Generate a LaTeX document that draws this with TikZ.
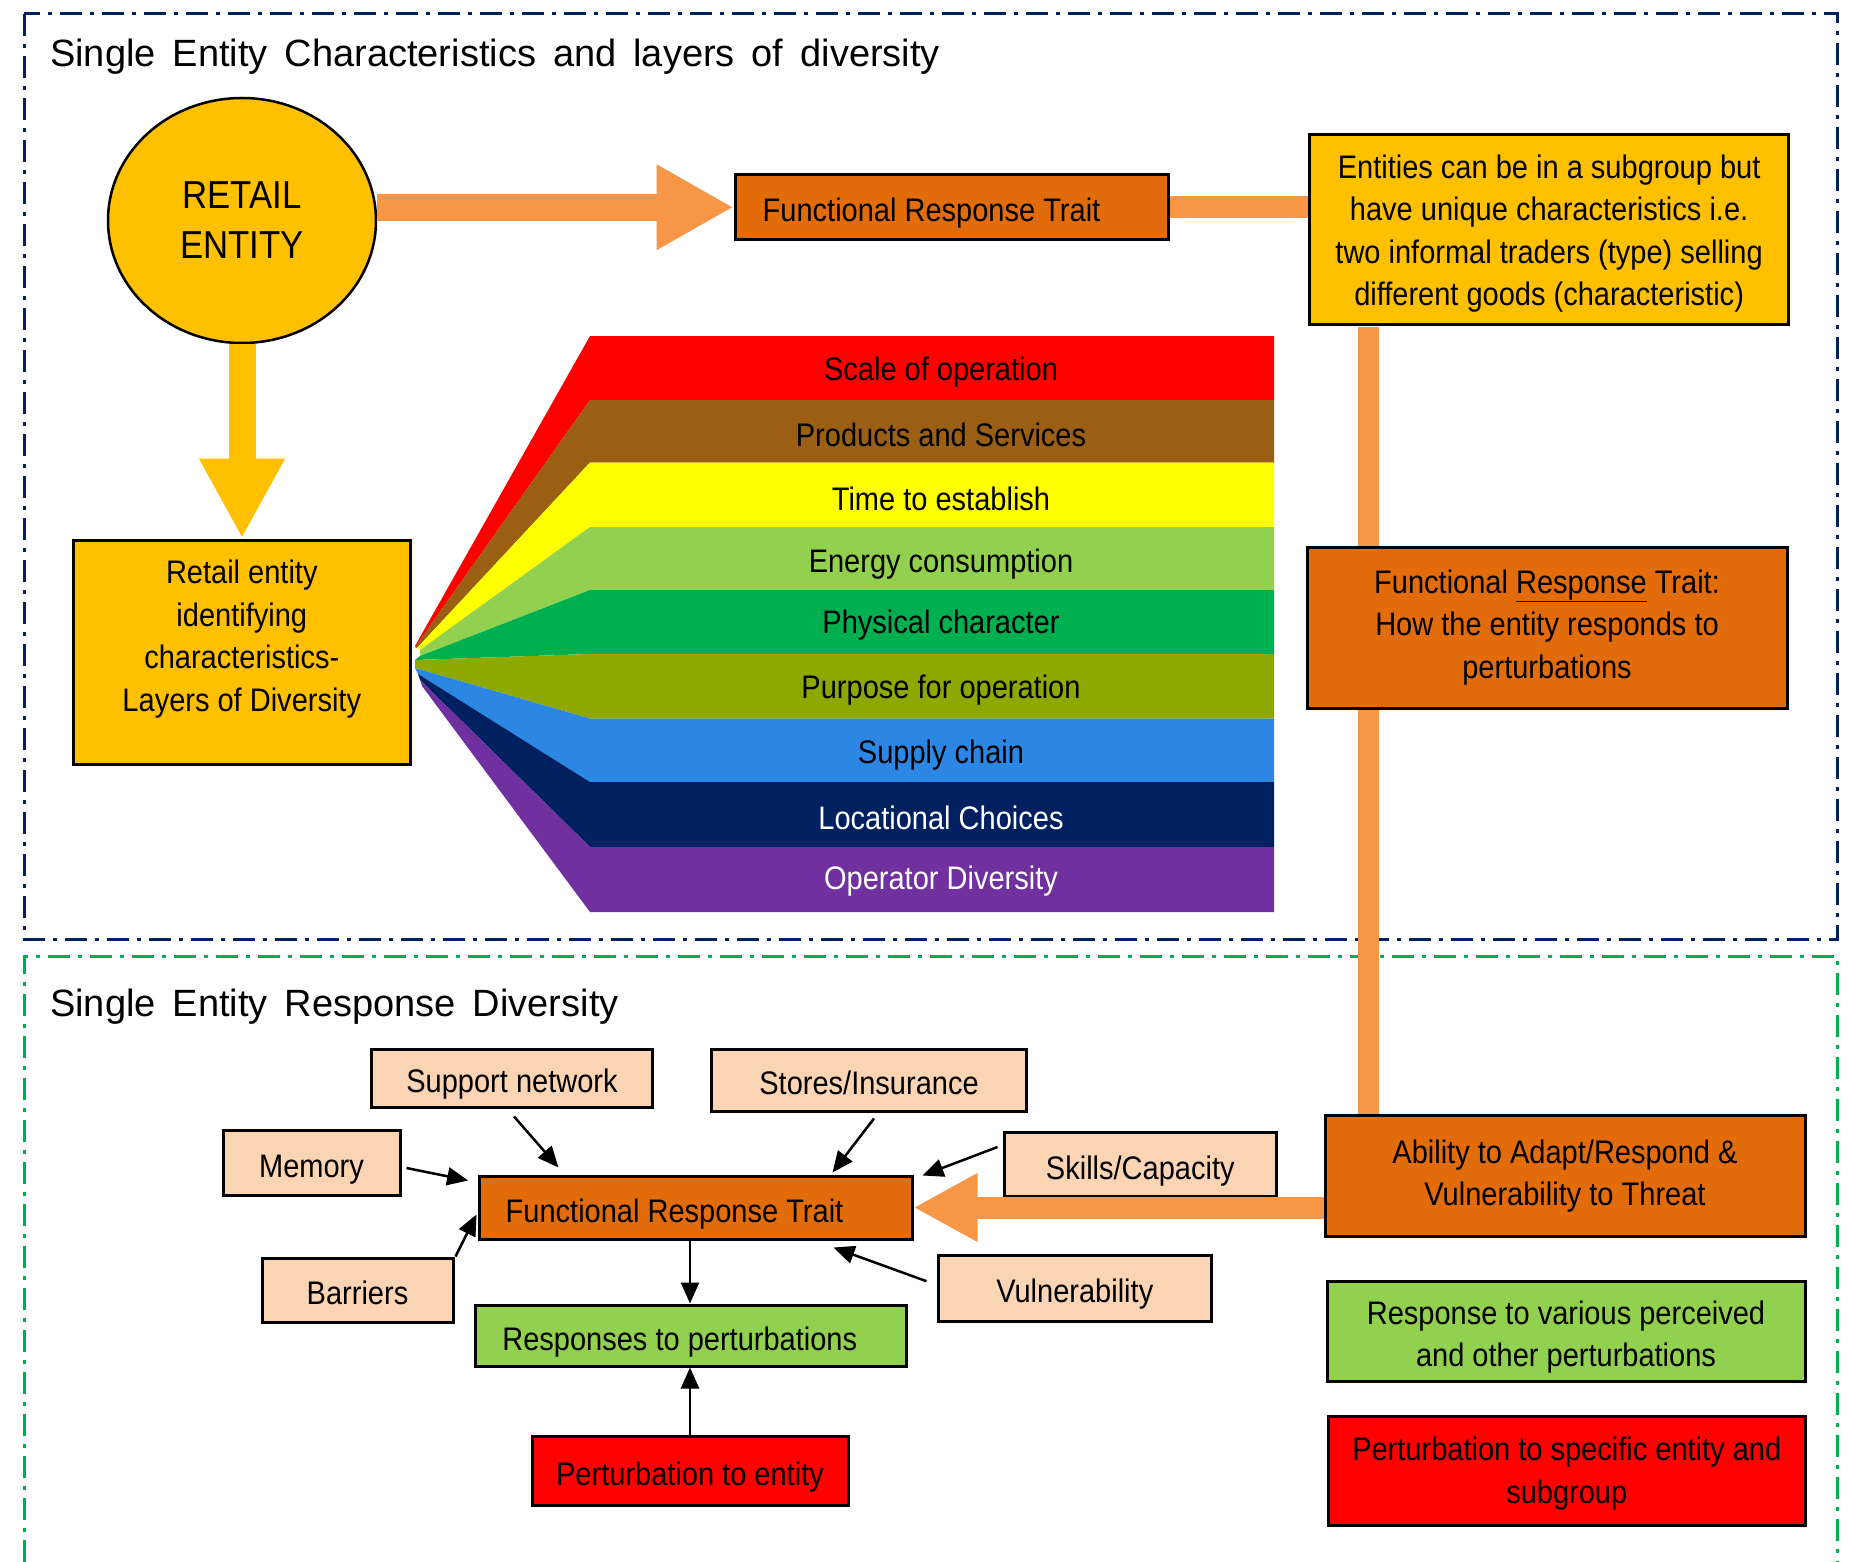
\documentclass[tikz,border=0pt]{standalone}
\usepackage{fontspec}
\setmainfont{Liberation Sans}
\newfontfamily\nf{Liberation Sans}[FakeStretch=0.89]
\usetikzlibrary{arrows.meta,calc,shapes.geometric}
\definecolor{navyb}{HTML}{002060}
\definecolor{greenb}{HTML}{00B050}
\definecolor{dorange}{HTML}{E36C0A}
\definecolor{lorange}{HTML}{F79646}
\definecolor{gold}{HTML}{FFC000}
\definecolor{peach}{HTML}{FBD4B4}
\definecolor{lgreen}{HTML}{92D050}
\definecolor{bred}{HTML}{FF0000}
\definecolor{bbrown}{HTML}{9A5F12}
\definecolor{byellow}{HTML}{FFFF00}
\definecolor{bgreen}{HTML}{00B050}
\definecolor{bolive}{HTML}{8DA900}
\definecolor{bblue}{HTML}{2B87E3}
\definecolor{bnavy}{HTML}{002060}
\definecolor{bpurple}{HTML}{7030A0}
\newcommand\bxfont{\nf\fontsize{32.6pt}{42.5pt}\selectfont}
\newcommand\ttlfont{\fontsize{38pt}{44pt}\selectfont}
\begin{document}
\begin{tikzpicture}[x=1pt,y=-1pt,
  box/.style={draw=black, line width=3pt, inner sep=0pt, font=\bxfont, align=center},
  one/.style={text height=33pt, text depth=4pt},
  ptxt/.style={inner sep=0pt, font=\bxfont, align=center},
  frame/.style={line width=3pt, dash pattern=on 22pt off 8pt on 4pt off 8pt},
  sarr/.style={draw=black, line width=2.5pt, -{Triangle[length=21pt,width=18pt]}},
  band/.style={inner sep=0pt, font=\bxfont}]
\useasboundingbox (0,0) rectangle (1850,1562);
\fill[white] (0,0) rectangle (1850,1562);

% frames
\draw[frame, navyb] (24,14) rectangle (1837,939);
\draw[frame, greenb] (24,1562) -- (24,956) -- (1837,956) -- (1837,1562);

% titles
\node[anchor=base west, inner sep=0pt, font=\ttlfont] (t1) at (50,67) {\spaceskip=17pt Single Entity Characteristics and layers of diversity};
\node[anchor=base west, inner sep=0pt, font=\ttlfont] (t2) at (50,1016) {\spaceskip=17pt Single Entity Response Diversity};

% top part nodes
\node[draw=black, line width=2.5pt, fill=gold, ellipse, minimum width=268pt, minimum height=245pt, inner sep=0pt, align=center, font=\nf\fontsize{39pt}{50pt}\selectfont] (ent) at (242,220.5) {RETAIL\\ENTITY};
\node[box, one, fill=dorange, minimum width=433pt, minimum height=64.5pt] (frt1) at (951.5,207.25) {Functional Response Trait\hspace*{40pt}};
\node[box, fill=gold, minimum width=479pt, minimum height=190pt] (ents) at (1549.1,229.5) {};
\node[ptxt] (entstxt) at ($(ents.center)+(0,4)$) {Entities can be in a subgroup but\\have unique characteristics i.e.\\two informal traders (type) selling\\different goods (characteristic)};
\node[box, fill=gold, minimum width=337.6pt, minimum height=224.5pt] (ret) at (241.8,652.25) {};
\node[ptxt] (rettxt) at ($(ret.center)+(0,-13)$) {Retail entity\\identifying\\characteristics-\\Layers of Diversity};

% bottom part nodes
\node[box, fill=dorange, minimum width=480pt, minimum height=120.5pt] (abil) at (1565,1176) {Ability to Adapt/Respond \&\\Vulnerability to Threat};
\node[box, fill=lgreen, minimum width=478pt, minimum height=100.6pt] (rva) at (1566,1331.3) {};
\node[ptxt] (rvatxt) at ($(rva.center)+(0,6)$) {Response to various perceived\\and other perturbations};
\node[box, fill=bred, minimum width=476.5pt, minimum height=109.5pt] (pse) at (1566.75,1470.75) {};
\node[ptxt] (psetxt) at ($(pse.center)+(0,3)$) {Perturbation to specific entity and\\subgroup};

\node[box, one, fill=peach, minimum width=281pt, minimum height=58pt] (sup) at (512,1078) {Support network};
\node[box, one, fill=peach, minimum width=315pt, minimum height=62pt] (sto) at (869,1080) {Stores/Insurance};
\node[box, one, fill=peach, minimum width=177pt, minimum height=65pt] (mem) at (311.5,1162.5) {Memory};
\node[box, one, fill=peach, minimum width=272.6pt, minimum height=63.7pt] (skl) at (1140.3,1164.5) {Skills/Capacity};
\node[box, one, fill=dorange, minimum width=433pt, minimum height=63pt] (frt3) at (695.5,1207.5) {Functional Response Trait\hspace*{42pt}};
\node[box, one, fill=peach, minimum width=191pt, minimum height=64.6pt] (bar) at (357.5,1290.3) {Barriers};
\node[box, one, fill=peach, minimum width=273.6pt, minimum height=66.4pt] (vul) at (1074.8,1288.2) {Vulnerability};
\node[box, one, fill=lgreen, minimum width=430.5pt, minimum height=61pt] (rsp) at (690.75,1335.5) {Responses to perturbations\hspace*{22pt}};
\node[box, one, fill=bred, minimum width=316pt, minimum height=68.5pt] (per) at (690,1471) {Perturbation to entity};

% orange connectors (top)
\draw[lorange, line width=27pt, -{Triangle[length=77pt,width=80pt]}] (ent.east |- frt1.west) -- (frt1.west);
\draw[gold, line width=27pt, -{Triangle[length=80pt,width=80pt]}] (ent.south) -- (ent.south |- ret.north);
\draw[lorange, line width=22pt] (frt1.east) -- (frt1.east -| ents.west);
\draw[lorange, line width=21pt] ($(ents.south west)+(60.4,1.5)$) coordinate (vtop) -- (vtop |- abil.north);

% explanation box on top of the vertical line
\node[box, fill=dorange, minimum width=480pt, minimum height=161pt] (frt2) at (1547,627.5) {Functional \underline{Response} Trait:\\How the entity responds to\\perturbations};

% rainbow fan
\fill[bred]    (415,646) -- (590,336)   -- (1274,336)   -- (1274,400)   -- (590,400)   -- (415,647) -- cycle;
\fill[bbrown]  (415,647) -- (590,400)   -- (1274,400)   -- (1274,462.5) -- (590,462.5) -- (417,648) -- cycle;
\fill[byellow] (417,648) -- (590,462.5) -- (1274,462.5) -- (1274,527)   -- (590,527)   -- (420,650) -- cycle;
\fill[lgreen]  (420,650) -- (590,527)   -- (1274,527)   -- (1274,590)   -- (590,590)   -- (420,656) -- cycle;
\fill[bgreen]  (420,656) -- (590,590)   -- (1274,590)   -- (1274,654)   -- (590,654)   -- (415,660) -- cycle;
\fill[bolive]  (415,660) -- (590,654)   -- (1274,654)   -- (1274,718.5) -- (590,718.5) -- (415,668) -- cycle;
\fill[bblue]   (415,668) -- (590,718.5) -- (1274,718.5) -- (1274,782)   -- (590,782)   -- (418,674) -- cycle;
\fill[bnavy]   (418,674) -- (590,782)   -- (1274,782)   -- (1274,847)   -- (590,847)   -- (420,680) -- cycle;
\fill[bpurple] (420,680) -- (590,847)   -- (1274,847)   -- (1274,912)   -- (590,912)   -- (422,686) -- cycle;
\node[band] (b1) at (941,372)   {Scale of operation};
\node[band] (b2) at (941,435)   {Products and Services};
\node[band] (b3) at (941,499)   {Time to establish};
\node[band] (b4) at (941,564)   {Energy consumption};
\node[band] (b5) at (941,625)   {Physical character};
\node[band] (b6) at (941,690)   {Purpose for operation};
\node[band] (b7) at (941,755)   {Supply chain};
\node[band, text=white] (b8) at (941,818)   {Locational Choices};
\node[band, text=white] (b9) at (941,881)   {Operator Diversity};

% bottom connectors
\draw[lorange, line width=22pt, -{Triangle[length=64pt,width=64pt]}] (frt3.east -| abil.west) -- (frt3.east);
\draw[sarr] ($(mem.east)+(5,5.5)$) -- ($(frt3.north west)+(-9.4,6)$);
\draw[sarr] ($(sup.south)+(2,8)$) -- ($(frt3.north west)+(81,-7)$);
\draw[sarr] ($(sto.south)+(5,6)$) -- ($(frt3.north)+(137,-2)$);
\draw[sarr] ($(skl.west)+(-5,-17.5)$) -- ($(frt3.north east)+(9,1)$);
\draw[sarr] ($(vul.west)+(-10,-7)$) -- ($(frt3.south east)+(-80,7)$);
\draw[sarr] ($(bar.north east)+(1,0)$) -- ($(frt3.west)+(-1,7)$);
\draw[sarr] (per.north |- frt3.south) -- (per.north |- rsp.north);
\draw[sarr] (per.north) -- (per.north |- rsp.south);
\end{tikzpicture}
\end{document}
